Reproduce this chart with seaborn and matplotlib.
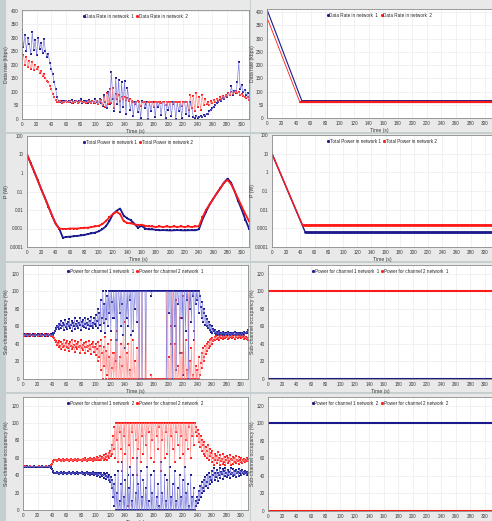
import matplotlib
matplotlib.use("Agg")
import matplotlib.pyplot as plt
from matplotlib.patches import Rectangle
from matplotlib.lines import Line2D
from matplotlib.ticker import FixedLocator, FuncFormatter
import numpy as np
import seaborn as sns

# ---------------- data ----------------
# data rate (kbps), sampled every 2 s
rate_net1 = [330, 265, 310, 250, 300, 275, 240, 320, 255, 290, 235, 300, 260, 280, 245, 295,
             250, 230, 240, 205, 185, 165, 135, 110, 80,
             66, 63, 67, 62, 65, 68, 61, 66, 64, 70, 60, 65, 67, 62, 66, 72, 58, 65, 63, 68,
             60, 70, 62, 66, 58, 72, 63, 55, 75, 60,
             48, 88, 62, 40, 100, 55, 175, 75, 30, 150, 55, 145, 25, 135, 45, 140, 20, 115, 70, 35,
             68, 10, 63, 64, 25, 62, 5, 65, 63, 40, 62, 0, 64, 30, 63, 62, 8, 64, 45, 62, 15, 63,
             62, 3, 64, 35, 62, 12, 63, 64, 0, 62, 28, 63, 5, 62, 64, 20, 63, 10, 62, 40, 8,
             5, 12, 4, 8, 10, 6, 14, 12, 20, 18, 28, 32, 40, 45, 52, 58, 62, 70, 65, 78, 72, 85,
             80, 95, 88, 120, 90, 105, 95, 135, 210, 110, 125, 98, 108, 88, 95, 70]
rate_net2 = [220, 235, 200, 228, 190, 215, 185, 210, 180, 200, 185, 190, 170, 178, 158, 165,
             150, 140, 135, 120, 110, 92, 80, 70, 64,
             62, 65, 60, 64, 62, 66, 61, 63, 65, 60, 64, 62, 66, 60, 63, 65, 61, 64, 62, 60,
             66, 63, 58, 65, 62, 60, 68, 55, 64, 70,
             50, 82, 45, 95, 55, 110, 60, 115, 42, 92, 75, 88, 68, 82, 72, 80, 70, 76, 68, 72,
             66, 62, 55, 63, 65, 62, 48, 64, 62, 63, 56, 62, 64, 63, 62, 45, 63, 62, 64, 62, 58,
             63, 62, 50, 64, 62, 63, 62, 55, 63, 62, 64, 62, 63, 48, 62, 63, 62, 64, 35, 90, 40, 85,
             30, 95, 45, 80, 35, 88, 50, 72, 55, 62, 50, 66, 58, 70, 62, 75, 68, 80, 72, 85, 78,
             90, 85, 95, 88, 100, 92, 98, 102, 95, 100, 88, 92, 85, 80, 78, 82, 70]

rate_opt1_t = [0, 48, 310]
rate_opt1 = [410, 65, 65]
rate_opt2_t = [0, 0, 45, 310]
rate_opt2 = [0, 380, 62, 62]

# total power (W), sampled every 5 s
power_net1 = [10, 3.5, 1.2, 0.4, 0.13, 0.045, 0.015, 0.005, 0.0018, 0.001, 0.00032, 0.00035,
              0.00036, 0.00038, 0.0004, 0.00042, 0.00045, 0.0005, 0.00055, 0.0006, 0.0007,
              0.0009, 0.0013, 0.0025, 0.006, 0.009, 0.012, 0.005, 0.0035, 0.0028, 0.0018,
              0.0011, 0.0014, 0.001, 0.0009, 0.0009, 0.00085, 0.0008, 0.00082, 0.0008, 0.00078,
              0.0008, 0.00082, 0.0008, 0.00079, 0.0008, 0.00081, 0.0008, 0.0009, 0.003, 0.008,
              0.02, 0.04, 0.08, 0.15, 0.3, 0.5, 0.3, 0.1, 0.03, 0.01, 0.003, 0.001, 0.0005]
power_net2 = [10, 3.5, 1.2, 0.4, 0.13, 0.045, 0.015, 0.005, 0.0018, 0.001, 0.00095, 0.00095,
              0.001, 0.001, 0.001, 0.00105, 0.0011, 0.0011, 0.0012, 0.0013, 0.0014, 0.0017,
              0.0025, 0.004, 0.006, 0.008, 0.006, 0.0025, 0.002, 0.0019, 0.0017, 0.0015, 0.0016,
              0.0014, 0.0013, 0.0013, 0.0012, 0.0013, 0.0012, 0.0013, 0.0012, 0.0013, 0.0012,
              0.0013, 0.0012, 0.0013, 0.0012, 0.0013, 0.0013, 0.004, 0.01, 0.02, 0.04, 0.08,
              0.15, 0.3, 0.42, 0.25, 0.1, 0.04, 0.015, 0.006, 0.0025, 0.0012]
power_opt1_t = [0, 47, 310]
power_opt1 = [10, 0.0006, 0.0006]
power_opt2_t = [0, 43, 310]
power_opt2 = [10, 0.0015, 0.0015]

# sub-channel occupancy (%), sampled every 1 s (one row = 20 s)
occ_n1_ch1 = [50, 50, 51, 50, 49, 50, 50, 51, 50, 50, 49, 50, 50, 50, 51, 50, 50, 49, 50, 50,
              50, 51, 50, 50, 49, 50, 51, 50, 50, 50, 49, 50, 51, 50, 50, 49, 50, 50, 51, 50,
              50, 51, 52, 53, 55, 57, 58, 61, 59, 63, 57, 62, 66, 58, 60, 64, 56, 62, 67, 59,
              63, 57, 65, 60, 68, 58, 62, 66, 55, 64, 61, 69, 57, 63, 60, 66, 58, 64, 62, 70,
              56, 65, 61, 67, 59, 63, 70, 58, 64, 62, 68, 57, 66, 61, 71, 60, 64, 58, 69, 63,
              73, 60, 66, 80, 58, 75, 62, 90, 55, 70, 100, 64, 85, 52, 100, 68, 95, 60, 100, 75,
              100, 55, 100, 88, 70, 100, 70, 100, 20, 100, 45, 100, 100, 75, 100, 60, 100, 85, 50, 100,
              100, 35, 100, 70, 100, 60, 100, 90, 100, 50, 100, 100, 55, 100, 80, 100, 100, 65, 100, 100,
              0, 100, 100, 100, 0, 100, 100, 100, 100, 0, 100, 100, 100, 100, 100, 100, 100, 95, 100, 100,
              100, 100, 100, 100, 100, 100, 100, 100, 100, 100, 100, 100, 100, 100, 100, 100, 100, 100, 0, 100,
              100, 75, 100, 100, 40, 100, 0, 100, 100, 60, 100, 10, 100, 100, 85, 100, 30, 100, 100, 70,
              100, 5, 100, 100, 55, 100, 90, 100, 0, 100, 80, 100, 65, 100, 95, 100, 45, 100, 85, 100,
              90, 100, 75, 100, 95, 82, 70, 88, 65, 80, 75, 62, 72, 60, 68, 58, 65, 56, 62, 54,
              60, 53, 57, 55, 52, 56, 51, 54, 53, 50, 55, 52, 51, 53, 50, 54, 52, 51, 53, 50,
              52, 51, 54, 50, 53, 51, 52, 50, 53, 51, 52, 50, 54, 51, 52, 50, 53, 51, 52, 50,
              51, 53, 50, 52, 54, 51, 53, 52, 54, 53, 56]
occ_n1_ch2 = [50, 50, 49, 50, 51, 50, 50, 49, 50, 50, 51, 50, 50, 50, 49, 50, 50, 51, 50, 50,
              50, 49, 50, 50, 51, 50, 49, 50, 50, 50, 51, 50, 49, 50, 50, 51, 50, 50, 49, 50,
              50, 49, 48, 47, 45, 43, 42, 39, 41, 37, 43, 38, 34, 42, 40, 36, 44, 38, 33, 41,
              37, 43, 35, 40, 32, 42, 38, 34, 45, 36, 39, 31, 43, 37, 40, 34, 42, 36, 38, 30,
              44, 35, 39, 33, 41, 37, 30, 42, 36, 38, 32, 43, 34, 39, 29, 40, 36, 42, 31, 37,
              27, 40, 34, 20, 42, 25, 38, 10, 45, 30, 0, 36, 15, 48, 0, 32, 5, 40, 0, 25,
              0, 45, 0, 12, 30, 0, 30, 0, 45, 0, 55, 0, 0, 25, 0, 40, 0, 15, 50, 0,
              0, 65, 0, 30, 0, 40, 0, 10, 0, 50, 0, 0, 45, 0, 20, 0, 0, 35, 0, 0,
              100, 0, 0, 0, 100, 0, 0, 0, 0, 100, 0, 0, 0, 0, 0, 0, 0, 5, 0, 0,
              0, 0, 0, 0, 0, 0, 0, 0, 0, 0, 0, 0, 0, 0, 0, 0, 0, 0, 100, 0,
              0, 25, 0, 0, 60, 0, 100, 0, 0, 40, 0, 90, 0, 0, 15, 0, 70, 0, 0, 30,
              0, 95, 0, 0, 45, 0, 10, 0, 100, 0, 20, 0, 35, 0, 5, 0, 55, 0, 15, 0,
              10, 0, 25, 0, 5, 18, 30, 12, 35, 20, 25, 38, 28, 40, 32, 42, 35, 44, 38, 46,
              40, 47, 43, 45, 48, 44, 49, 46, 47, 50, 45, 48, 49, 47, 50, 46, 48, 49, 47, 50,
              48, 49, 46, 50, 47, 49, 48, 50, 47, 49, 48, 50, 46, 49, 48, 50, 47, 49, 48, 50,
              49, 47, 50, 48, 46, 49, 47, 48, 46, 47, 44]
occ_n2_ch1 = [50, 50, 50, 49, 50, 50, 51, 50, 50, 50, 49, 50, 50, 50, 50, 51, 50, 50, 50, 50,
              50, 50, 49, 50, 50, 50, 51, 50, 50, 50, 50, 49, 50, 50, 50, 50, 51, 50, 49, 48,
              47, 45, 44, 43, 42, 43, 42, 44, 42, 43, 41, 43, 44, 42, 43, 41, 42, 44, 43, 42,
              43, 41, 42, 44, 42, 43, 41, 43, 42, 44, 43, 41, 42, 43, 44, 42, 41, 43, 42, 43,
              42, 44, 41, 43, 42, 40, 43, 42, 44, 41, 42, 43, 40, 42, 43, 41, 44, 42, 40, 43,
              41, 42, 39, 43, 40, 42, 38, 41, 43, 39, 40, 42, 37, 41, 39, 36, 42, 38, 34, 40,
              32, 38, 25, 35, 15, 30, 5, 40, 0, 20, 0, 45, 0, 10, 0, 30, 0, 55, 0, 15,
              0, 35, 0, 0, 40, 0, 25, 0, 50, 0, 10, 0, 40, 0, 0, 20, 0, 60, 0, 30,
              0, 0, 45, 0, 15, 0, 35, 0, 0, 25, 0, 50, 0, 10, 0, 0, 40, 0, 20, 0,
              0, 45, 0, 0, 15, 0, 30, 0, 5, 0, 55, 0, 20, 0, 0, 40, 0, 10, 0, 35,
              0, 0, 50, 0, 15, 0, 30, 0, 0, 45, 0, 10, 0, 25, 0, 0, 40, 0, 15, 0,
              35, 0, 0, 50, 0, 20, 0, 30, 0, 5, 0, 40, 0, 15, 0, 25, 0, 0, 10, 5,
              15, 8, 22, 12, 28, 15, 32, 20, 25, 35, 22, 38, 28, 32, 40, 25, 42, 30, 38, 34,
              45, 32, 40, 48, 35, 42, 38, 46, 33, 43, 40, 48, 37, 44, 41, 47, 36, 45, 39, 48,
              42, 38, 46, 40, 44, 37, 48, 41, 43, 39, 47, 40, 45, 38, 46, 42, 44, 39, 47, 43,
              45, 40, 46, 42, 44, 41, 45, 43, 40, 44, 42]
occ_n2_ch2 = [50, 50, 50, 51, 50, 50, 49, 50, 50, 50, 51, 50, 50, 50, 50, 49, 50, 50, 50, 50,
              50, 50, 51, 50, 50, 50, 49, 50, 50, 50, 50, 51, 50, 50, 50, 50, 49, 50, 51, 52,
              53, 55, 56, 57, 58, 57, 58, 56, 58, 57, 59, 57, 56, 58, 57, 59, 58, 56, 57, 58,
              57, 59, 58, 56, 58, 57, 59, 57, 58, 56, 57, 59, 58, 57, 56, 58, 59, 57, 58, 57,
              58, 56, 59, 57, 58, 60, 57, 58, 56, 59, 58, 57, 60, 58, 57, 59, 56, 58, 60, 57,
              59, 58, 61, 57, 60, 58, 62, 59, 57, 61, 60, 58, 63, 59, 61, 64, 58, 62, 66, 60,
              68, 62, 75, 65, 85, 70, 95, 60, 100, 80, 100, 55, 100, 90, 100, 70, 100, 45, 100, 85,
              100, 65, 100, 100, 5, 100, 75, 100, 50, 100, 90, 100, 60, 100, 100, 80, 100, 40, 100, 70,
              100, 100, 55, 100, 85, 100, 65, 100, 100, 75, 100, 50, 100, 90, 100, 100, 60, 100, 80, 100,
              100, 55, 100, 100, 85, 100, 70, 100, 95, 100, 45, 100, 80, 100, 100, 60, 100, 90, 100, 65,
              100, 100, 50, 100, 85, 100, 70, 100, 100, 55, 100, 90, 100, 75, 100, 100, 60, 100, 85, 100,
              65, 100, 100, 50, 100, 80, 100, 70, 100, 95, 100, 60, 100, 85, 100, 75, 100, 100, 90, 95,
              85, 92, 78, 88, 72, 85, 68, 80, 75, 65, 78, 62, 72, 68, 60, 75, 58, 70, 62, 66,
              55, 68, 60, 52, 65, 58, 62, 54, 67, 57, 60, 52, 63, 56, 59, 53, 64, 55, 61, 52,
              58, 62, 54, 60, 56, 63, 52, 59, 57, 61, 53, 60, 55, 62, 54, 58, 56, 61, 53, 57,
              55, 60, 54, 58, 56, 59, 55, 57, 60, 56, 58]

opt_t = [0, 310]
opt_n1_ch1 = [0, 0]
opt_n1_ch2 = [100, 100]
opt_n2_ch1 = [100, 100]
opt_n2_ch2 = [0, 0]

# ---------------- styling ----------------
sns.set_style("whitegrid")
plt.rcParams['font.family'] = ['Liberation Sans', 'DejaVu Sans']

W, H = 492, 521
BLUE_M, BLUE_L = '#1a1a8c', '#7474dc'
RED_M, RED_L = '#ff1a1a', '#ff8a8a'
FS = 3.3
TXT = '#3a3a3a'

fig = plt.figure(figsize=(W / 100, H / 100), dpi=100)
fig.patch.set_facecolor('#c6cfcf')

# light grey chart panels (pixels: x0, y0, x1, y1)
for x0, y0, x1, y1 in [(6, 0, 250, 132), (251, 0, 492, 132),
                       (6, 134, 250, 261), (251, 134, 492, 261),
                       (6, 263, 250, 392), (251, 263, 492, 392),
                       (6, 394, 250, 521), (251, 394, 492, 521)]:
    fig.patches.append(Rectangle((x0 / W, 1 - y1 / H), (x1 - x0) / W, (y1 - y0) / H,
                                 transform=fig.transFigure, facecolor='#e9e9e9',
                                 edgecolor='none', zorder=-5))


def make_ax(x0, y0, x1, y1, label_x):
    ax = fig.add_axes([x0 / W, 1 - y1 / H, (x1 - x0) / W, (y1 - y0) / H])
    ax.set_facecolor('white')
    for s in ax.spines.values():
        s.set_color('#8a8a8a')
        s.set_linewidth(0.6)
    ax.grid(True, color='#ececec', linewidth=0.5)
    ax.tick_params(labelsize=FS, colors=TXT, length=1.5, width=0.4, pad=1)
    ax.set_xlim(0, 310)
    ax.set_xticks(range(0, 301, 20))
    ax.set_xlabel('Time (s)', fontsize=FS + 0.4, labelpad=0.8, color=TXT)
    ax.yaxis.set_label_coords((label_x - x0) / (x1 - x0), 0.5)
    return ax


def series(ax, t, y, line_c, mark_c, lw=0.5, ms=1.2, mark=True):
    sns.lineplot(x=t, y=y, ax=ax, color=line_c, linewidth=lw, estimator=None, sort=False,
                 legend=False)
    if mark:
        sns.scatterplot(x=t, y=y, ax=ax, color=mark_c, s=ms, marker='s', linewidth=0,
                        legend=False)


def legend(ax, labels):
    handles = [Line2D([], [], linestyle='none', marker='s', markersize=1.1, color=BLUE_M),
               Line2D([], [], linestyle='none', marker='s', markersize=1.1, color=RED_M)]
    ax.legend(handles, labels, loc='upper center', ncol=2, frameon=False, fontsize=FS,
              handlelength=0.4, handletextpad=0.2, columnspacing=0.5,
              borderaxespad=0.4)


def t1(v):
    return np.arange(len(v))


def t2(v):
    return np.arange(len(v)) * 2


def t5(v):
    return np.arange(len(v)) * 5


LX_L, LX_R = 9, 255

# ---- row 1: data rate ----
ax = make_ax(22, 10, 249, 119, LX_L)
series(ax, t2(rate_net1), rate_net1, BLUE_L, BLUE_M, lw=0.45)
series(ax, t2(rate_net2), rate_net2, RED_L, RED_M, lw=0.45)
ax.set_ylim(0, 402)
ax.set_yticks(range(0, 401, 50))
ax.set_ylabel('Data rate (kbps)', fontsize=FS + 0.4, color=TXT)
legend(ax, ['Data Rate in network  1', 'Data Rate in network  2'])

ax = make_ax(267, 9, 492, 118, LX_R)
series(ax, rate_opt1_t, rate_opt1, BLUE_M, BLUE_M, lw=0.8, mark=False)
series(ax, rate_opt2_t, rate_opt2, RED_M, RED_M, lw=0.6, mark=False)
series(ax, rate_opt1_t[1:], rate_opt1[1:], BLUE_M, BLUE_M, lw=2.0, mark=False)
series(ax, rate_opt2_t[2:], rate_opt2[2:], RED_M, RED_M, lw=1.6, mark=False)
ax.set_ylim(0, 412)
ax.set_yticks(range(0, 401, 50))
ax.set_ylabel('Data rate (kbps)', fontsize=FS + 0.4, color=TXT)
legend(ax, ['Data Rate in network  1', 'Data Rate in network  2'])


# ---- row 2: total power (log) ----
def log_axis(ax):
    ax.set_yscale('log')
    ax.set_ylim(1e-4, 100)
    ax.yaxis.set_major_locator(FixedLocator([1e-4, 1e-3, 1e-2, 1e-1, 1, 10, 100]))
    ax.yaxis.set_minor_locator(FixedLocator([]))
    ax.yaxis.set_major_formatter(FuncFormatter(lambda v, p: '%g' % v))
    ax.set_ylabel('P (W)', fontsize=FS + 0.4, color=TXT)


ax = make_ax(27, 136, 249, 247, LX_L)
series(ax, t5(power_net1), power_net1, BLUE_M, BLUE_M, lw=1.3, ms=1.5)
series(ax, t5(power_net2), power_net2, RED_M, RED_M, lw=1.3, ms=1.5)
log_axis(ax)
legend(ax, ['Total Power in network 1', 'Total Power in network 2'])

ax = make_ax(272, 135, 492, 247, LX_R)
series(ax, power_opt1_t, power_opt1, BLUE_M, BLUE_M, lw=1.0, mark=False)
series(ax, power_opt2_t, power_opt2, RED_M, RED_M, lw=1.0, mark=False)
series(ax, power_opt1_t[1:], power_opt1[1:], BLUE_M, BLUE_M, lw=2.0, mark=False)
series(ax, power_opt2_t[1:], power_opt2[1:], RED_M, RED_M, lw=2.0, mark=False)
log_axis(ax)
legend(ax, ['Total Power in network 1', 'Total Power in network 2'])


# ---- rows 3-4: sub-channel occupancy ----
def occ_axis(ax):
    ax.set_ylim(0, 130)
    ax.set_yticks(range(0, 121, 20))
    ax.set_ylabel('Sub-channel occupancy (%)', fontsize=FS + 0.4, color=TXT)


ax = make_ax(23, 265, 248, 379, LX_L)
series(ax, t1(occ_n1_ch2), occ_n1_ch2, RED_L, RED_M, lw=0.35, ms=0.9)
series(ax, t1(occ_n1_ch1), occ_n1_ch1, BLUE_L, BLUE_M, lw=0.35, ms=0.9)
occ_axis(ax)
legend(ax, ['Power for channel 1 network  1', 'Power for channel 2 network  1'])

ax = make_ax(268, 265, 492, 379, LX_R)
series(ax, opt_t, opt_n1_ch1, BLUE_M, BLUE_M, lw=1.5, mark=False)
series(ax, opt_t, opt_n1_ch2, RED_M, RED_M, lw=1.5, mark=False)
occ_axis(ax)
legend(ax, ['Power for channel 1 network  1', 'Power for channel 2 network  1'])

ax = make_ax(23, 397, 248, 510, LX_L)
series(ax, t1(occ_n2_ch2), occ_n2_ch2, RED_L, RED_M, lw=0.35, ms=0.9)
series(ax, t1(occ_n2_ch1), occ_n2_ch1, BLUE_L, BLUE_M, lw=0.35, ms=0.9)
occ_axis(ax)
legend(ax, ['Power for channel 1 network  2', 'Power for channel 2 network  2'])

ax = make_ax(268, 397, 492, 511, LX_R)
series(ax, opt_t, opt_n2_ch1, BLUE_M, BLUE_M, lw=1.5, mark=False)
series(ax, opt_t, opt_n2_ch2, RED_M, RED_M, lw=1.5, mark=False)
occ_axis(ax)
legend(ax, ['Power for channel 1 network  2', 'Power for channel 2 network  2'])

fig.savefig('out.png', dpi=100)
